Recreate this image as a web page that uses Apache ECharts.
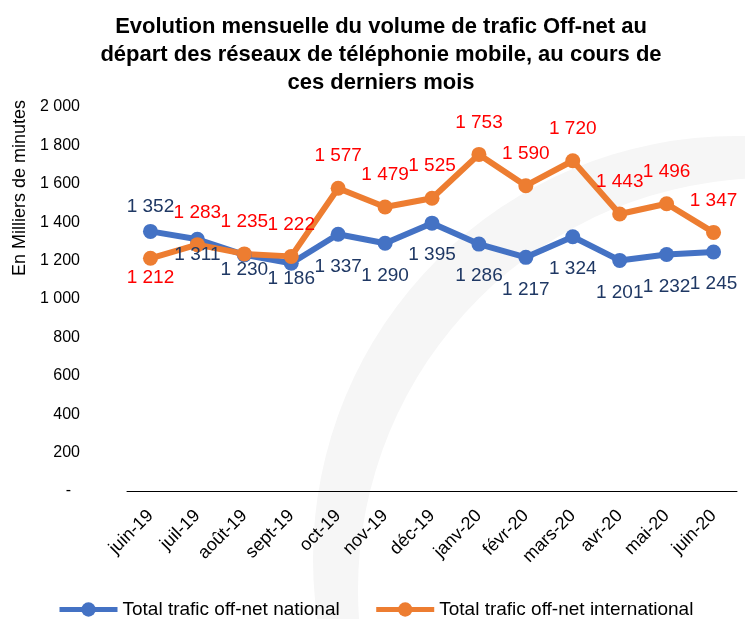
<!DOCTYPE html>
<html>
<head>
<meta charset="utf-8">
<script src="https://cdn.jsdelivr.net/npm/echarts@6/dist/echarts.min.js"></script>
<style>
  html, body { margin: 0; padding: 0; background: #fff; }
  #chart { width: 745px; height: 619px; }
</style>
</head>
<body>
<div id="chart"></div>
<script>
// données
var mois = ['juin-19', 'juil-19', 'août-19', 'sept-19', 'oct-19', 'nov-19', 'déc-19',
            'janv-20', 'févr-20', 'mars-20', 'avr-20', 'mai-20', 'juin-20'];
var national = [1352, 1311, 1230, 1186, 1337, 1290, 1395, 1286, 1217, 1324, 1201, 1232, 1245];
var international = [1212, 1283, 1235, 1222, 1577, 1479, 1525, 1753, 1590, 1720, 1443, 1496, 1347];
var yTicks = [0, 200, 400, 600, 800, 1000, 1200, 1400, 1600, 1800, 2000];

var FONT = '"Liberation Sans", Arial, sans-serif';

// format "1 352"
function fmt(v) {
  if (v === 0) return '-';
  return String(v).replace(/\B(?=(\d{3})+(?!\d))/g, ' ');
}

// étiquettes serrées contre la ligne (début de série)
var closeNat = [1, 2, 3];

function natData() {
  return national.map(function (v, i) {
    var pos = i === 0 ? 'top' : 'bottom';
    var dist = i === 0 ? 8 : (closeNat.indexOf(i) >= 0 ? -2 : 15);
    return { value: v, label: { position: pos, distance: dist } };
  });
}
function intData() {
  return international.map(function (v, i) {
    var pos = i === 0 ? 'bottom' : 'top';
    var dist = i === 0 ? 2 : 15;
    return { value: v, label: { position: pos, distance: dist } };
  });
}

var chart = echarts.init(document.getElementById('chart'));
var option = {
  animation: false,
  title: {
    text: 'Evolution mensuelle du volume de trafic Off-net au\ndépart des réseaux de téléphonie mobile, au cours de\nces derniers mois',
    left: 376,
    textAlign: 'center',
    top: 8,
    textStyle: {
      fontFamily: FONT,
      fontWeight: 'bold',
      fontSize: 22,
      lineHeight: 28,
      color: '#000'
    }
  },
  graphic: [
    // filigrane gris clair en arrière-plan
    { type: 'circle', z: -10, shape: { cx: 736, cy: 559, r: 423 }, style: { fill: '#f6f6f6' }, silent: true },
    { type: 'circle', z: -9, shape: { cx: 770, cy: 590, r: 412 }, style: { fill: '#ffffff' }, silent: true },
    {
      type: 'text',
      x: 20,
      y: 188,
      rotation: Math.PI / 2,
      style: {
        text: 'En Milliers de minutes',
        fontFamily: FONT,
        fontSize: 18,
        fill: '#000',
        align: 'center',
        verticalAlign: 'middle'
      }
    }
  ],
  legend: {
    top: 595,
    left: 52,
    itemWidth: 58,
    itemHeight: 18,
    itemGap: 34,
    lineStyle: { width: 5 },
    textStyle: { fontFamily: FONT, fontSize: 19, color: '#000' },
    data: ['Total trafic off-net national', 'Total trafic off-net international']
  },
  grid: {
    left: 127,
    right: 8,
    top: 107,
    bottom: 128
  },
  xAxis: {
    type: 'category',
    data: mois,
    boundaryGap: true,
    axisLine: { lineStyle: { color: '#000', width: 1 } },
    axisTick: { length: 6, lineStyle: { color: '#000' } },
    axisLabel: {
      rotate: 45,
      margin: 22,
      fontFamily: FONT,
      fontSize: 18,
      color: '#000'
    }
  },
  yAxis: {
    type: 'value',
    min: yTicks[0],
    max: yTicks[yTicks.length - 1],
    interval: 200,
    axisLine: { show: false },
    axisTick: { show: false },
    splitLine: { show: false },
    axisLabel: {
      margin: 47,
      fontFamily: FONT,
      fontSize: 16,
      color: '#000',
      formatter: function (v) { return v === 0 ? '-  ' : fmt(v); }
    }
  },
  series: [
    {
      name: 'Total trafic off-net national',
      type: 'line',
      data: natData(),
      symbol: 'circle',
      symbolSize: 15,
      lineStyle: { width: 6, color: '#4472C4' },
      itemStyle: { color: '#4472C4' },
      label: {
        show: true,
        fontFamily: FONT,
        fontSize: 19,
        color: '#1F3864',
        formatter: function (p) { return fmt(p.value); }
      }
    },
    {
      name: 'Total trafic off-net international',
      type: 'line',
      data: intData(),
      symbol: 'circle',
      symbolSize: 15,
      lineStyle: { width: 6, color: '#ED7D31' },
      itemStyle: { color: '#ED7D31' },
      label: {
        show: true,
        fontFamily: FONT,
        fontSize: 19,
        color: '#FF0000',
        formatter: function (p) { return fmt(p.value); }
      }
    }
  ]
};
chart.setOption(option);
</script>
</body>
</html>
